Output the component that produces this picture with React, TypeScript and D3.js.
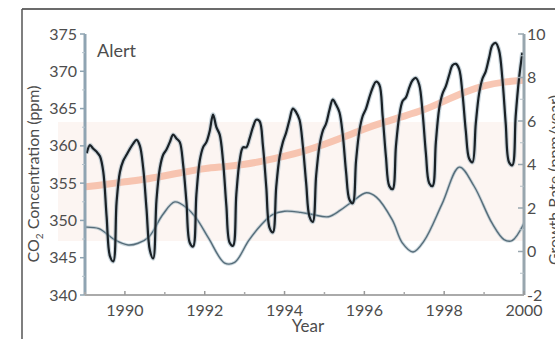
import React from "react";
import * as d3 from "d3";

const W = 555;
const H = 339;

// CO2 concentration (ppm), monthly mid-month values, by year
const years = [1989, 1990, 1991, 1992, 1993, 1994, 1995, 1996, 1997, 1998, 1999];
const co2Monthly = [
  [359.0, 360.1, 359.6, 359.2, 358.6, 356.5, 350.5, 345.2, 344.5, 352.5, 356.5, 358.0],
  [358.8, 359.6, 360.3, 360.8, 360.0, 357.0, 351.5, 346.0, 344.9, 352.8, 357.0, 358.8],
  [359.5, 360.5, 361.5, 361.0, 360.5, 357.5, 352.5, 347.0, 346.5, 353.5, 358.0, 359.8],
  [360.5, 362.0, 364.2, 362.5, 361.5, 358.0, 352.0, 347.0, 346.6, 353.5, 358.0, 359.8],
  [359.8, 361.0, 362.5, 363.5, 363.3, 360.0, 354.5, 349.0, 348.4, 354.5, 358.5, 360.5],
  [361.8, 363.5, 365.0, 364.5, 363.5, 360.0, 355.0, 350.5, 349.8, 356.0, 360.0, 362.0],
  [363.0, 364.8, 366.2, 365.5, 364.5, 361.5, 356.5, 352.8, 352.3, 358.0, 362.0, 364.0],
  [365.0, 366.5, 367.8, 368.6, 368.2, 364.0, 358.5, 354.6, 354.2, 360.0, 364.0, 366.0],
  [366.5, 367.8, 368.8, 369.1, 368.2, 364.5, 359.0, 355.0, 354.6, 360.5, 365.0, 367.0],
  [368.0, 369.5, 370.8, 371.0, 370.3, 367.0, 362.0, 358.3, 357.8, 363.0, 367.0, 369.0],
  [370.0, 371.8, 373.5, 373.8, 372.8, 369.0, 363.0, 357.8, 357.4, 364.0, 369.0, 372.5],
];

// Smoothed trend (ppm)
const trendYears = [1989.0, 1989.5, 1990.0, 1990.5, 1991.0, 1991.5, 1992.0, 1992.5, 1993.0, 1993.5, 1994.0, 1994.5, 1995.0, 1995.5, 1996.0, 1996.5, 1997.0, 1997.5, 1998.0, 1998.5, 1999.0, 1999.5, 2000.0];
const trendValues = [354.5, 354.8, 355.2, 355.5, 356.0, 356.5, 357.0, 357.2, 357.5, 358.0, 358.6, 359.3, 360.2, 361.2, 362.3, 363.2, 364.0, 364.8, 366.0, 367.2, 368.1, 368.6, 368.8];

// Growth rate (ppm/year)
const growthYears = [1989.0, 1989.35, 1989.75, 1990.08, 1990.33, 1990.6, 1990.95, 1991.25, 1991.55, 1991.8, 1992.1, 1992.5, 1992.75, 1993.1, 1993.4, 1993.7, 1994.0, 1994.4, 1994.7, 1995.1, 1995.4, 1995.7, 1996.05, 1996.3, 1996.7, 1996.95, 1997.22, 1997.5, 1997.95, 1998.38, 1998.75, 1999.2, 1999.5, 1999.7, 2000.0];
const growthValues = [1.12, 1.05, 0.53, 0.3, 0.38, 0.67, 1.7, 2.28, 2.0, 1.5, 0.6, -0.53, -0.5, 0.5, 1.2, 1.7, 1.85, 1.8, 1.7, 1.6, 1.9, 2.3, 2.7, 2.5, 1.45, 0.4, -0.02, 0.5, 2.2, 3.88, 3.0, 1.3, 0.55, 0.5, 1.3];

const xTicks = [1990, 1992, 1994, 1996, 1998, 2000];
const yLeftTicks = [340, 345, 350, 355, 360, 365, 370, 375];
const yRightTicks = [-2, 0, 2, 4, 6, 8, 10];

const X0 = 85, X1 = 524, Y0 = 34, Y1 = 295;
const FONT = "Lato, 'Open Sans', sans-serif";
const TXT = "#4d4d4d";

export default function App() {
  const x = d3.scaleLinear().domain([1989, 2000]).range([X0, X1]);
  const yL = d3.scaleLinear().domain([340, 375]).range([Y1, Y0]);
  const yR = d3.scaleLinear().domain([-2, 10]).range([Y1, Y0]);

  const co2Pts: [number, number][] = [];
  years.forEach((yr, i) =>
    co2Monthly[i].forEach((v, m) => co2Pts.push([yr + (m + 0.5) / 12, v]))
  );
  const co2Line = d3
    .line<[number, number]>()
    .x((d) => x(d[0]))
    .y((d) => yL(d[1]))
    .curve(d3.curveCatmullRom.alpha(0.5));
  const trendLine = d3
    .line<number>()
    .x((_, i) => x(trendYears[i]))
    .y((d) => yL(d))
    .curve(d3.curveBasis);
  const growthLine = d3
    .line<number>()
    .x((_, i) => x(growthYears[i]))
    .y((d) => yR(d))
    .curve(d3.curveCatmullRom.alpha(0.5));

  const minorX = d3.range(1989, 2001, 1).filter((v) => v % 2 === 1);
  const minorR = d3.range(-1, 10, 2);
  const minorL = d3.range(342.5, 375, 5);

  return (
    <svg width={W} height={H} style={{ position: "absolute", left: 0, top: 0 }}>
      <defs>
        <clipPath id="plot">
          <rect x={X0} y={Y0 - 10} width={X1 - X0} height={Y1 - Y0 + 10} />
        </clipPath>
      </defs>
      <rect x={0} y={0} width={W} height={H} fill="#fff" />
      {/* frame */}
      <line x1={22} y1={9} x2={W} y2={9} stroke="#3a3a3a" strokeWidth={1.5} />
      <line x1={22} y1={9} x2={22} y2={H} stroke="#555" strokeWidth={1.5} />
      {/* faint scan band */}
      <rect x={58} y={122} width={X1 - 58} height={119} fill="#fcf5f2" />

      <g clipPath="url(#plot)">
        <path d={trendLine(trendValues) || ""} fill="none" stroke="#f5a98c" strokeWidth={7} opacity={0.65} />
        <path d={growthLine(growthValues) || ""} fill="none" stroke="#a9bcc7" strokeWidth={3.2} opacity={0.6} />
        <path d={growthLine(growthValues) || ""} fill="none" stroke="#566d7a" strokeWidth={1.4} />
        <path d={co2Line(co2Pts) || ""} fill="none" stroke="#95adbb" strokeWidth={4.5} opacity={0.5} />
        <path d={co2Line(co2Pts) || ""} fill="none" stroke="#1a2126" strokeWidth={2.2} />
      </g>

      {/* left axis */}
      <line x1={X0} y1={Y0} x2={X0} y2={Y1} stroke="#8fa4b2" strokeWidth={3} />
      {yLeftTicks.map((t) => (
        <g key={t}>
          <line x1={X0 - 5} x2={X0} y1={yL(t)} y2={yL(t)} stroke="#8fa4b2" strokeWidth={1.5} />
          <text x={77} y={yL(t) + 5.5} textAnchor="end" fontSize={16} fontFamily={FONT} fill={TXT}>
            {t}
          </text>
        </g>
      ))}
      {minorL.map((t) => (
        <line key={t} x1={X0 - 3} x2={X0} y1={yL(t)} y2={yL(t)} stroke="#b5c3cc" strokeWidth={1} />
      ))}

      {/* right axis */}
      <line x1={X1} y1={Y0} x2={X1} y2={Y1} stroke="#98a6ae" strokeWidth={3} />
      {yRightTicks.map((t) => (
        <g key={t}>
          <line x1={X1 - 6} x2={X1} y1={yR(t)} y2={yR(t)} stroke="#98a6ae" strokeWidth={1.5} />
          <text x={527} y={yR(t) + 5.5} textAnchor="start" fontSize={16} fontFamily={FONT} fill={TXT}>
            {t}
          </text>
        </g>
      ))}
      {minorR.map((t) => (
        <line key={t} x1={X1 - 4} x2={X1} y1={yR(t)} y2={yR(t)} stroke="#b5c0c6" strokeWidth={1} />
      ))}

      {/* bottom axis */}
      <line x1={X0} y1={Y1} x2={X1} y2={Y1} stroke="#aaaaaa" strokeWidth={2} />
      {xTicks.map((t) => (
        <g key={t}>
          <line x1={x(t)} x2={x(t)} y1={Y1 - 4} y2={Y1} stroke="#999" strokeWidth={1.5} />
          <text x={x(t)} y={316} textAnchor="middle" fontSize={16} fontFamily={FONT} fill={TXT}>
            {t}
          </text>
        </g>
      ))}
      {minorX.map((t) => (
        <line key={t} x1={x(t)} x2={x(t)} y1={Y1 - 3} y2={Y1} stroke="#aaa" strokeWidth={1.5} />
      ))}

      {/* labels */}
      <text x={97} y={57} fontSize={18} fontFamily={FONT} fill={TXT}>
        Alert
      </text>
      <text x={308} y={332} textAnchor="middle" fontSize={17} fontFamily={FONT} fill={TXT}>
        Year
      </text>
      <text
        transform="translate(39,174) rotate(-90)"
        textAnchor="middle"
        fontSize={16}
        fontFamily={FONT}
        fill={TXT}
      >
        CO<tspan fontSize={10} dy={4}>2</tspan>
        <tspan dy={-4}> Concentration (ppm)</tspan>
      </text>
      <text
        transform="translate(560,180) rotate(-90)"
        textAnchor="middle"
        fontSize={16}
        fontFamily={FONT}
        fill={TXT}
      >
        Growth Rate (ppm/year)
      </text>
    </svg>
  );
}
